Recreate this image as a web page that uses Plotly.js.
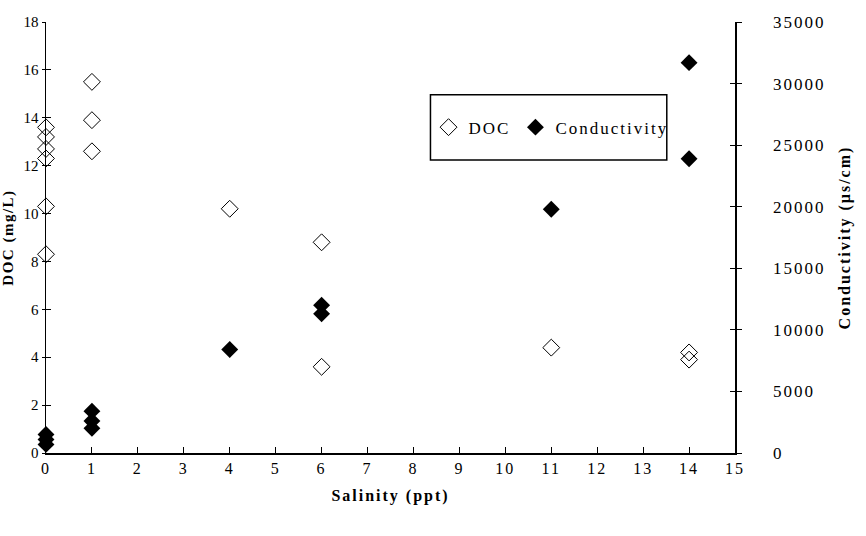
<!DOCTYPE html>
<html>
<head>
<meta charset="utf-8">
<script src="https://cdn.plot.ly/plotly-3.0.1.min.js"></script>
<style>body{margin:0;background:#fff}#chart{width:866px;height:536px}
text{letter-spacing:2px}
.yaxislayer-above .ytick text{letter-spacing:0px}
.g-ytitle text{letter-spacing:1.5px}
</style>
</head>
<body>
<div id="chart"></div>
<script>
const salinityDOC = [0, 0, 0, 0, 0, 0, 1, 1, 1, 4, 6, 6, 11, 14, 14];
const docValues = [13.6, 13.2, 12.7, 12.3, 10.3, 8.3, 15.5, 13.9, 12.6, 10.2, 8.8, 3.6, 4.4, 4.2, 3.9];
const salinityCond = [0, 0, 0, 1, 1, 1, 4, 6, 6, 11, 14, 14];
const condValues = [1500, 1100, 700, 3400, 2600, 2000, 8400, 12000, 11300, 19800, 31700, 23900];
const xTicks = [0,1,2,3,4,5,6,7,8,9,10,11,12,13,14,15];
const yLeftTicks = [0,2,4,6,8,10,12,14,16,18];
const yRightTicks = [0,5000,10000,15000,20000,25000,30000,35000];

const F = "Liberation Serif";
const traces = [
  {x: salinityDOC, y: docValues, name: 'DOC', type: 'scatter', mode: 'markers', cliponaxis: false,
   marker: {symbol: 'diamond-open', size: 13, color: '#000', line: {width: 1, color: '#000'}}, yaxis: 'y'},
  {x: salinityCond, y: condValues, name: 'Conductivity', type: 'scatter', mode: 'markers', cliponaxis: false,
   marker: {symbol: 'diamond', size: 13, color: '#000', line: {width: 0}}, yaxis: 'y2'}
];
const tf = {family: F, size: 16, color: '#000'};
const layout = {
  width: 866, height: 536,
  margin: {l: 46, r: 131, t: 22, b: 83},
  paper_bgcolor: '#fff', plot_bgcolor: '#fff',
  showlegend: true,
  legend: {orientation: 'h', x: 0.733, y: 0.755, xanchor: 'center', yanchor: 'middle',
           bgcolor: 'rgba(0,0,0,0)', font: {family: F, size: 17, color: '#000'}, itemwidth: 30},
  xaxis: {range: [0, 15], tickvals: xTicks, ticktext: xTicks.map(String), showgrid: false, zeroline: false,
          showline: true, linecolor: '#000', linewidth: 1.5, ticks: 'inside', ticklen: 6, tickcolor: '#000',
          tickfont: tf, title: {text: '<b>Salinity (ppt)</b>', font: {family: F, size: 16, color: '#000'}, standoff: 14}},
  yaxis: {range: [0, 18], tickvals: yLeftTicks, ticktext: yLeftTicks.map(String), showgrid: false, zeroline: false,
          showline: true, linecolor: '#000', linewidth: 1.5, ticks: 'outside', ticklen: 3, tickcolor: '#000',
          tickfont: {family: F, size: 15, color: '#000'}, title: {text: '<b>DOC (mg/L)</b>', font: {family: F, size: 15, color: '#000'}, standoff: 4}},
  yaxis3: {range: [0, 18], overlaying: 'y', side: 'left', tickvals: yLeftTicks, showticklabels: false,
           showgrid: false, zeroline: false, ticks: 'inside', ticklen: 5, tickcolor: '#000', showline: false},
  yaxis2: {range: [0, 35000], overlaying: 'y', side: 'right', tickvals: yRightTicks, ticktext: yRightTicks.map(String),
           showgrid: false, zeroline: false, showline: true, linecolor: '#000', linewidth: 1.5,
           ticks: 'outside', ticklen: 5, tickcolor: '#000', tickfont: {family: F, size: 17, color: '#000'}, ticklabelstandoff: 28,
           title: {text: '<b>Conductivity (μs/cm)</b>', font: {family: F, size: 16, color: '#000'}, standoff: 14}},
  yaxis4: {range: [0, 35000], overlaying: 'y', side: 'right', tickvals: yRightTicks, showticklabels: false,
           showgrid: false, zeroline: false, ticks: 'inside', ticklen: 5, tickcolor: '#000', showline: false},
  shapes: [{type: 'rect', xref: 'paper', yref: 'paper', x0: 0.558, x1: 0.901, y0: 0.680, y1: 0.831,
            line: {color: '#000', width: 1.5}, fillcolor: 'rgba(0,0,0,0)'}]
};
traces.push({x: [null], y: [null], yaxis: 'y3', showlegend: false, hoverinfo: 'skip', type: 'scatter', mode: 'markers'});
traces.push({x: [null], y: [null], yaxis: 'y4', showlegend: false, hoverinfo: 'skip', type: 'scatter', mode: 'markers'});
Plotly.newPlot('chart', traces, layout, {staticPlot: true, displayModeBar: false});
</script>
</body>
</html>
